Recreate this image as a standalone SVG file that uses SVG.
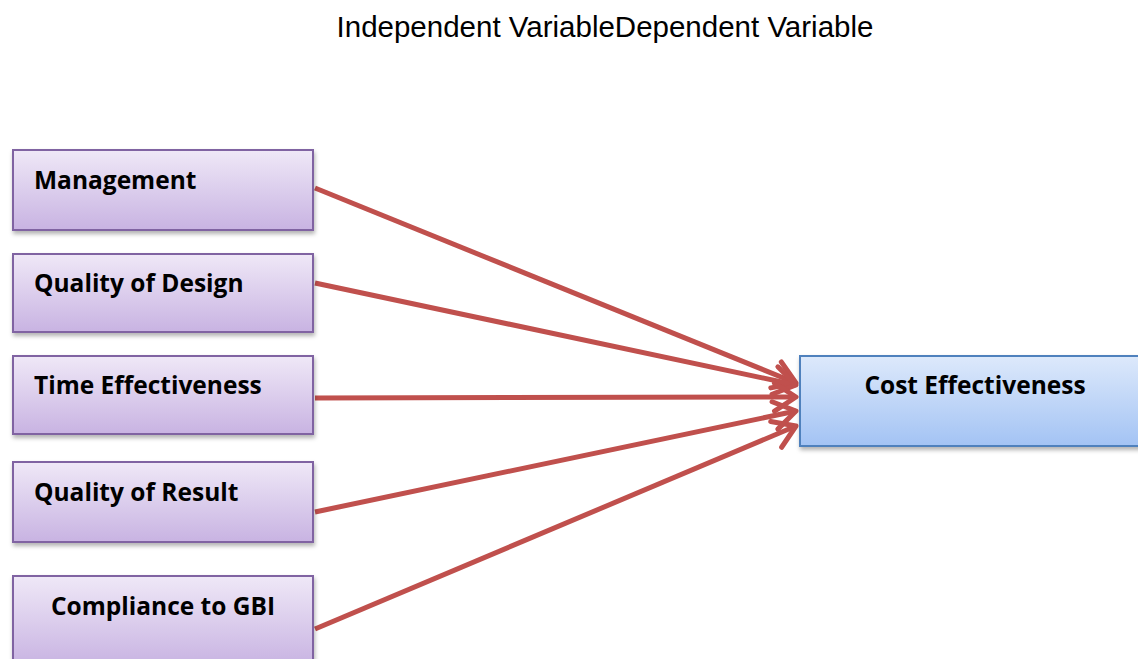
<svg xmlns="http://www.w3.org/2000/svg" width="1138" height="659" viewBox="0 0 1138 659">
<defs>
<linearGradient id="gp" x1="0" y1="0" x2="0" y2="1">
<stop offset="0" stop-color="#efe8f7"/>
<stop offset="1" stop-color="#c8b3e2"/>
</linearGradient>
<linearGradient id="gb" x1="0" y1="0" x2="0" y2="1">
<stop offset="0" stop-color="#dde9fb"/>
<stop offset="1" stop-color="#a3c3f4"/>
</linearGradient>
<filter id="sh" x="-10%" y="-10%" width="120%" height="130%">
<feDropShadow dx="1" dy="3" stdDeviation="2" flood-color="#000" flood-opacity="0.3"/>
</filter>
<marker id="ah" markerWidth="8" markerHeight="8" refX="6.3" refY="4" orient="auto" markerUnits="strokeWidth" viewBox="0 0 8 8">
<path d="M2,1.2 L6.3,4 L2,6.8" fill="none" stroke="#c0504d" stroke-width="1" stroke-linecap="round" stroke-linejoin="round"/>
</marker>
</defs>
<style>
.src{fill:url(#gp);stroke:#8064a2;stroke-width:2;filter:url(#sh)}
.dst{fill:url(#gb);stroke:#4f81bd;stroke-width:2;filter:url(#sh)}
.lbl{font-family:"Open Sans","Liberation Sans",sans-serif;font-weight:bold;font-size:24.5px;fill:#000}
.title{font-family:"Liberation Sans",Arial,sans-serif;font-size:29.5px;fill:#000}
.conn{stroke:#c0504d;stroke-width:5;fill:none;marker-end:url(#ah)}
</style>
<rect width="1138" height="659" fill="#fff"/>
<text class="title" x="605" y="37" text-anchor="middle">Independent VariableDependent Variable</text>
<g id="connectors">
<line class="conn" x1="315" y1="188" x2="796" y2="383"/>
<line class="conn" x1="315" y1="283" x2="796" y2="385"/>
<line class="conn" x1="315" y1="398" x2="796" y2="397"/>
<line class="conn" x1="315" y1="512" x2="796" y2="411"/>
<line class="conn" x1="315" y1="629" x2="796" y2="426"/>
</g>
<g id="n1"><rect class="src" x="13" y="150" width="300" height="80"/><text class="lbl" x="34" y="189">Management</text></g>
<g id="n2"><rect class="src" x="13" y="254" width="300" height="78"/><text class="lbl" x="34" y="292">Quality of Design</text></g>
<g id="n3"><rect class="src" x="13" y="356" width="300" height="78"/><text class="lbl" x="34" y="394">Time Effectiveness</text></g>
<g id="n4"><rect class="src" x="13" y="462" width="300" height="80"/><text class="lbl" x="34" y="501">Quality of Result</text></g>
<g id="n5"><rect class="src" x="13" y="576" width="300" height="90"/><text class="lbl" x="163" y="615" text-anchor="middle">Compliance to GBI</text></g>
<g id="target"><rect class="dst" x="800" y="356" width="345" height="90"/><text class="lbl" x="975" y="394" text-anchor="middle">Cost Effectiveness</text></g>
</svg>
